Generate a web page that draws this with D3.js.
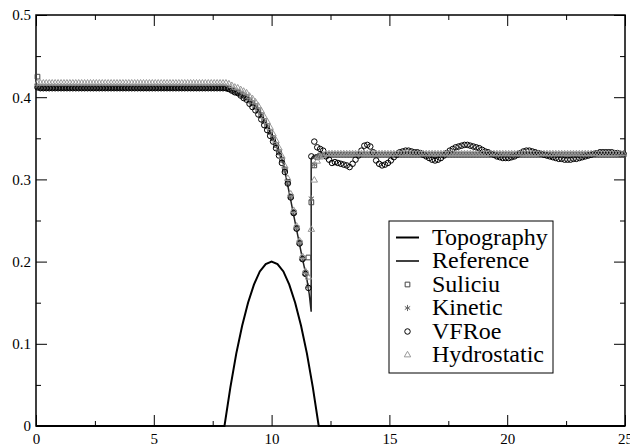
<!DOCTYPE html>
<html>
<head>
<meta charset="utf-8">
<script src="https://cdn.jsdelivr.net/npm/d3@7"></script>
<style>
body { margin: 0; background: #fff; }
svg text { font-family: "Liberation Serif", Tinos, "Times New Roman", Times, "DejaVu Serif", serif; }
</style>
</head>
<body>
<div id="main"></div>
<script>
var ctx = {
    w: 630,
    h: 446,
    left: 36,
    right: 625,
    top: 15,
    bottom: 426,
    font: "'Liberation Serif', Tinos, 'Times New Roman', Times, 'DejaVu Serif', serif"
};

// axis ticks
var xTicks = [0, 5, 10, 15, 20, 25];
var xMinor = [2.5, 7.5, 12.5, 17.5, 22.5];
var yTicks = [0, 0.1, 0.2, 0.3, 0.4, 0.5];
var yMinor = [0.05, 0.15, 0.25, 0.35, 0.45];

// cells of the numerical schemes (value i sits at the centre of cell i)
var cellWidth = 0.125;

// topography (bump)
var topoX = [0, 8, 8.25, 8.5, 8.75, 9, 9.25, 9.5, 9.75, 10, 10.25, 10.5, 10.75, 11, 11.25, 11.5, 11.75, 12, 25];
var topoY = [0, 0, 0.047, 0.088, 0.122, 0.150, 0.172, 0.188, 0.197, 0.200, 0.197, 0.188, 0.172, 0.150, 0.122, 0.088, 0.047, 0, 0];

// reference free surface
var refX = [0, 8, 8.5, 9, 9.37, 9.65, 9.93, 10.22, 10.5, 10.64, 10.81, 10.92, 11.06, 11.32, 11.49, 11.6, 11.68, 11.68, 11.75, 11.9, 25];
var refY = [0.411, 0.411, 0.407, 0.398, 0.388, 0.374, 0.358, 0.340, 0.319, 0.299, 0.275, 0.259, 0.239, 0.202, 0.180, 0.160, 0.139, 0.325, 0.328, 0.330, 0.330];

var suliciu = [
    0.425, 0.412, 0.412, 0.412, 0.412, 0.412, 0.412, 0.412, 0.412, 0.412,
    0.412, 0.412, 0.412, 0.412, 0.412, 0.412, 0.412, 0.412, 0.412, 0.412,
    0.412, 0.412, 0.412, 0.412, 0.412, 0.412, 0.412, 0.412, 0.412, 0.412,
    0.412, 0.412, 0.412, 0.412, 0.412, 0.412, 0.412, 0.412, 0.412, 0.412,
    0.412, 0.412, 0.412, 0.412, 0.412, 0.412, 0.412, 0.412, 0.412, 0.412,
    0.412, 0.412, 0.412, 0.412, 0.412, 0.412, 0.412, 0.412, 0.412, 0.412,
    0.412, 0.412, 0.412, 0.412, 0.411, 0.410, 0.409, 0.407, 0.406, 0.404,
    0.402, 0.400, 0.396, 0.393, 0.389, 0.384, 0.378, 0.371, 0.365, 0.358,
    0.350, 0.342, 0.333, 0.324, 0.312, 0.297, 0.279, 0.260, 0.241, 0.223,
    0.204, 0.186, 0.205, 0.272, 0.317, 0.327, 0.329, 0.330, 0.330, 0.330,
    0.330, 0.330, 0.330, 0.330, 0.330, 0.330, 0.330, 0.330, 0.330, 0.330,
    0.330, 0.330, 0.330, 0.330, 0.330, 0.330, 0.330, 0.330, 0.330, 0.330,
    0.330, 0.330, 0.330, 0.330, 0.330, 0.330, 0.330, 0.330, 0.330, 0.330,
    0.330, 0.330, 0.330, 0.330, 0.330, 0.330, 0.330, 0.330, 0.330, 0.330,
    0.330, 0.330, 0.330, 0.330, 0.330, 0.330, 0.330, 0.330, 0.330, 0.330,
    0.330, 0.330, 0.330, 0.330, 0.330, 0.330, 0.330, 0.330, 0.330, 0.330,
    0.330, 0.330, 0.330, 0.330, 0.330, 0.330, 0.330, 0.330, 0.330, 0.330,
    0.330, 0.330, 0.330, 0.330, 0.330, 0.330, 0.330, 0.330, 0.330, 0.330,
    0.330, 0.330, 0.330, 0.330, 0.330, 0.330, 0.330, 0.330, 0.330, 0.330,
    0.330, 0.330, 0.330, 0.330, 0.330, 0.330, 0.330, 0.330, 0.330, 0.330
];

var kinetic = [
    0.413, 0.411, 0.411, 0.411, 0.411, 0.411, 0.411, 0.411, 0.411, 0.411,
    0.411, 0.411, 0.411, 0.411, 0.411, 0.411, 0.411, 0.411, 0.411, 0.411,
    0.411, 0.411, 0.411, 0.411, 0.411, 0.411, 0.411, 0.411, 0.411, 0.411,
    0.411, 0.411, 0.411, 0.411, 0.411, 0.411, 0.411, 0.411, 0.411, 0.411,
    0.411, 0.411, 0.411, 0.411, 0.411, 0.411, 0.411, 0.411, 0.411, 0.411,
    0.411, 0.411, 0.411, 0.411, 0.411, 0.411, 0.411, 0.411, 0.411, 0.411,
    0.411, 0.411, 0.411, 0.411, 0.411, 0.410, 0.409, 0.407, 0.406, 0.404,
    0.402, 0.400, 0.396, 0.393, 0.389, 0.384, 0.378, 0.371, 0.365, 0.358,
    0.350, 0.342, 0.333, 0.324, 0.312, 0.297, 0.279, 0.260, 0.241, 0.223,
    0.204, 0.186, 0.170, 0.277, 0.318, 0.327, 0.329, 0.330, 0.330, 0.330,
    0.330, 0.330, 0.330, 0.330, 0.330, 0.330, 0.330, 0.330, 0.330, 0.330,
    0.330, 0.330, 0.330, 0.330, 0.330, 0.330, 0.330, 0.330, 0.330, 0.330,
    0.330, 0.330, 0.330, 0.330, 0.330, 0.330, 0.330, 0.330, 0.330, 0.330,
    0.330, 0.330, 0.330, 0.330, 0.330, 0.330, 0.330, 0.330, 0.330, 0.330,
    0.330, 0.330, 0.330, 0.330, 0.330, 0.330, 0.330, 0.330, 0.330, 0.330,
    0.330, 0.330, 0.330, 0.330, 0.330, 0.330, 0.330, 0.330, 0.330, 0.330,
    0.330, 0.330, 0.330, 0.330, 0.330, 0.330, 0.330, 0.330, 0.330, 0.330,
    0.330, 0.330, 0.330, 0.330, 0.330, 0.330, 0.330, 0.330, 0.330, 0.330,
    0.330, 0.330, 0.330, 0.330, 0.330, 0.330, 0.330, 0.330, 0.330, 0.330,
    0.330, 0.330, 0.330, 0.330, 0.330, 0.330, 0.330, 0.330, 0.330, 0.330
];

var vfroe = [
    0.412, 0.411, 0.411, 0.411, 0.411, 0.411, 0.411, 0.411, 0.411, 0.411,
    0.411, 0.411, 0.411, 0.411, 0.411, 0.411, 0.411, 0.411, 0.411, 0.411,
    0.411, 0.411, 0.411, 0.411, 0.411, 0.411, 0.411, 0.411, 0.411, 0.411,
    0.411, 0.411, 0.411, 0.411, 0.411, 0.411, 0.411, 0.411, 0.411, 0.411,
    0.411, 0.411, 0.411, 0.411, 0.411, 0.411, 0.411, 0.411, 0.411, 0.411,
    0.411, 0.411, 0.411, 0.411, 0.411, 0.411, 0.411, 0.411, 0.411, 0.411,
    0.411, 0.411, 0.411, 0.411, 0.411, 0.410, 0.408, 0.406, 0.405, 0.402,
    0.399, 0.397, 0.392, 0.388, 0.384, 0.379, 0.373, 0.366, 0.360, 0.353,
    0.346, 0.338, 0.329, 0.320, 0.309, 0.295, 0.278, 0.259, 0.240, 0.222,
    0.203, 0.185, 0.168, 0.328, 0.346, 0.339, 0.337, 0.335, 0.328, 0.324,
    0.320, 0.321, 0.320, 0.319, 0.318, 0.317, 0.315, 0.319, 0.324, 0.329,
    0.335, 0.341, 0.342, 0.340, 0.333, 0.323, 0.319, 0.317, 0.318, 0.320,
    0.323, 0.327, 0.330, 0.333, 0.334, 0.335, 0.335, 0.334, 0.333, 0.333,
    0.332, 0.330, 0.328, 0.326, 0.324, 0.323, 0.324, 0.326, 0.329, 0.332,
    0.335, 0.337, 0.339, 0.340, 0.341, 0.342, 0.342, 0.341, 0.340, 0.339,
    0.338, 0.336, 0.334, 0.333, 0.331, 0.330, 0.328, 0.327, 0.326, 0.326,
    0.326, 0.327, 0.328, 0.330, 0.332, 0.334, 0.335, 0.335, 0.334, 0.333,
    0.332, 0.331, 0.330, 0.329, 0.328, 0.327, 0.326, 0.325, 0.325, 0.324,
    0.324, 0.324, 0.325, 0.325, 0.326, 0.327, 0.328, 0.329, 0.330, 0.331,
    0.332, 0.333, 0.333, 0.333, 0.333, 0.333, 0.332, 0.332, 0.331, 0.331
];

var hydrostatic = [
    0.417, 0.417, 0.417, 0.417, 0.417, 0.417, 0.417, 0.417, 0.417, 0.417,
    0.417, 0.417, 0.417, 0.417, 0.417, 0.417, 0.417, 0.417, 0.417, 0.417,
    0.417, 0.417, 0.417, 0.417, 0.417, 0.417, 0.417, 0.417, 0.417, 0.417,
    0.417, 0.417, 0.417, 0.417, 0.417, 0.417, 0.417, 0.417, 0.417, 0.417,
    0.417, 0.417, 0.417, 0.417, 0.417, 0.417, 0.417, 0.417, 0.417, 0.417,
    0.417, 0.417, 0.417, 0.417, 0.417, 0.417, 0.417, 0.417, 0.417, 0.417,
    0.417, 0.417, 0.417, 0.417, 0.417, 0.416, 0.414, 0.412, 0.411, 0.409,
    0.407, 0.405, 0.401, 0.398, 0.394, 0.389, 0.383, 0.376, 0.370, 0.363,
    0.355, 0.347, 0.338, 0.328, 0.316, 0.301, 0.282, 0.262, 0.243, 0.225,
    0.206, 0.188, 0.181, 0.239, 0.299, 0.322, 0.327, 0.329, 0.331, 0.331,
    0.331, 0.331, 0.331, 0.331, 0.331, 0.331, 0.331, 0.331, 0.331, 0.331,
    0.331, 0.331, 0.331, 0.331, 0.331, 0.331, 0.331, 0.331, 0.331, 0.331,
    0.331, 0.331, 0.331, 0.331, 0.331, 0.331, 0.331, 0.331, 0.331, 0.331,
    0.331, 0.331, 0.331, 0.331, 0.331, 0.331, 0.331, 0.331, 0.331, 0.331,
    0.331, 0.331, 0.331, 0.331, 0.331, 0.331, 0.331, 0.331, 0.331, 0.331,
    0.331, 0.331, 0.331, 0.331, 0.331, 0.331, 0.331, 0.331, 0.331, 0.331,
    0.331, 0.331, 0.331, 0.331, 0.331, 0.331, 0.331, 0.331, 0.331, 0.331,
    0.331, 0.331, 0.331, 0.331, 0.331, 0.331, 0.331, 0.331, 0.331, 0.331,
    0.331, 0.331, 0.331, 0.331, 0.331, 0.331, 0.331, 0.331, 0.331, 0.331,
    0.331, 0.331, 0.331, 0.331, 0.331, 0.331, 0.331, 0.331, 0.331, 0.331
];

var legendNames = ["Topography", "Reference", "Suliciu", "Kinetic", "VFRoe", "Hydrostatic"];

var schemes = [
    { name: "Suliciu", values: suliciu, symbol: d3.symbolSquare, size: 22, color: "#444" },
    { name: "Kinetic", values: kinetic, symbol: d3.symbolAsterisk, size: 26, color: "#666" },
    { name: "VFRoe", values: vfroe, symbol: d3.symbolCircle, size: 24, color: "#000" },
    { name: "Hydrostatic", values: hydrostatic, symbol: d3.symbolTriangle, size: 18, color: "#999" }
];

var x = d3.scaleLinear().domain([0, 25]).range([ctx.left, ctx.right]);
var y = d3.scaleLinear().domain([0, 0.5]).range([ctx.bottom, ctx.top]);

var svg = d3.select("#main").append("svg")
    .attr("width", ctx.w)
    .attr("height", ctx.h);

// axes: major and minor ticks pointing inward on all four sides
var drawAxis = function(axis, tx, ty) {
    var g = svg.append("g")
        .attr("transform", "translate(" + tx + "," + ty + ")")
        .call(axis)
        .attr("font-family", ctx.font)
        .attr("font-size", 15);
    g.select(".domain").remove();
    g.selectAll("line").attr("stroke", "#000").attr("stroke-width", 1);
    g.selectAll("text").attr("fill", "#000");
    return g;
};

var fmtY = function(d) { return d === 0 ? "0" : d3.format(".1f")(d); };

drawAxis(d3.axisBottom(x).tickValues(xTicks).tickSize(-11).tickPadding(7).tickFormat(d3.format("d")), 0, ctx.bottom);
drawAxis(d3.axisBottom(x).tickValues(xMinor).tickSize(-5).tickFormat(""), 0, ctx.bottom);
drawAxis(d3.axisTop(x).tickValues(xTicks).tickSize(-11).tickFormat(""), 0, ctx.top);
drawAxis(d3.axisTop(x).tickValues(xMinor).tickSize(-5).tickFormat(""), 0, ctx.top);
drawAxis(d3.axisLeft(y).tickValues(yTicks).tickSize(-11).tickPadding(5).tickFormat(fmtY), ctx.left, 0);
drawAxis(d3.axisLeft(y).tickValues(yMinor).tickSize(-5).tickFormat(""), ctx.left, 0);
drawAxis(d3.axisRight(y).tickValues(yTicks).tickSize(-11).tickFormat(""), ctx.right, 0);
drawAxis(d3.axisRight(y).tickValues(yMinor).tickSize(-5).tickFormat(""), ctx.right, 0);

// frame
svg.append("rect")
    .attr("x", ctx.left)
    .attr("y", ctx.top)
    .attr("width", ctx.right - ctx.left)
    .attr("height", ctx.bottom - ctx.top)
    .attr("fill", "none")
    .attr("stroke", "#000")
    .attr("stroke-width", 1.5);

var line = d3.line()
    .x(function(d) { return x(d[0]); })
    .y(function(d) { return y(d[1]); });

// topography and reference lines
svg.append("path")
    .datum(topoX.map(function(v, i) { return [v, topoY[i]]; }))
    .attr("d", line)
    .attr("fill", "none")
    .attr("stroke", "#000")
    .attr("stroke-width", 2);

svg.append("path")
    .datum(refX.map(function(v, i) { return [v, refY[i]]; }))
    .attr("d", line)
    .attr("fill", "none")
    .attr("stroke", "#222")
    .attr("stroke-width", 1.5);

// the scheme markers
schemes.forEach(function(s) {
    var sym = d3.symbol().type(s.symbol).size(s.size);
    svg.append("g").selectAll("path")
        .data(s.values)
        .enter().append("path")
        .attr("d", sym)
        .attr("transform", function(d, i) {
            return "translate(" + x((i + 0.5) * cellWidth) + "," + y(d) + ")";
        })
        .attr("fill", "none")
        .attr("stroke", s.color)
        .attr("stroke-width", 1);
});

// legend
var leg = svg.append("g")
    .attr("font-family", ctx.font);
leg.append("rect")
    .attr("x", 389).attr("y", 221)
    .attr("width", 164).attr("height", 152)
    .attr("fill", "#fff")
    .attr("stroke", "#000")
    .attr("stroke-width", 1);

legendNames.forEach(function(name, i) {
    var yb = 244.5 + 23.5 * i;
    if (i < 2) {
        leg.append("line")
            .attr("x1", 396).attr("x2", 419)
            .attr("y1", yb - 7).attr("y2", yb - 7)
            .attr("stroke", "#000")
            .attr("stroke-width", i === 0 ? 2 : 1.5);
    } else {
        var s = schemes[i - 2];
        leg.append("path")
            .attr("d", d3.symbol().type(s.symbol).size(s.size))
            .attr("transform", "translate(407.5," + (yb - 7) + ")")
            .attr("fill", "none")
            .attr("stroke", s.color)
            .attr("stroke-width", 1);
    }
    leg.append("text")
        .attr("x", 432)
        .attr("y", yb)
        .attr("fill", "#000")
        .attr("font-size", 24)
        .text(name);
});
</script>
</body>
</html>
